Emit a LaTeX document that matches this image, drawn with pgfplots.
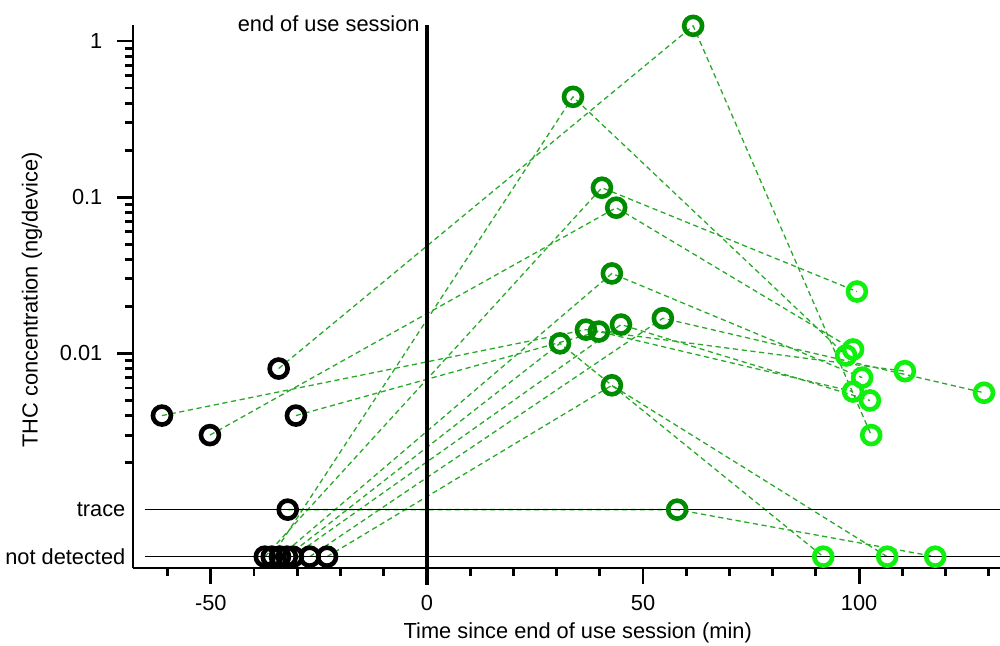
\documentclass[border=0pt]{standalone}
\usepackage{pgfplots}
\pgfplotsset{compat=1.18}
\usepackage{fontspec}
\setmainfont{Liberation Sans}
\definecolor{dkgreen}{RGB}{0,140,0}
\definecolor{ltgreen}{RGB}{15,240,15}
\definecolor{lngreen}{RGB}{40,170,40}
\begin{document}
\fontsize{10.9}{13}\selectfont
\begin{tikzpicture}
\begin{axis}[
  at={(0,0)}, anchor=south west,
  scale only axis, width=433.5pt, height=271.5pt,
  ymode=log,
  xmin=-68, xmax=132.6, ymin=0.000423, ymax=1.265,
  axis x line*=bottom, axis y line*=left,
  axis line style={line width=1.4pt},
  clip=false,
  xtick={-50,0,50,100},
  minor xtick={-60,-40,-30,-20,-10,10,20,30,40,60,70,80,90,110,120,130},
  ytick={0.01,0.1,1}, yticklabels={0.01,0.1,1},
  minor ytick={0.002,0.003,0.004,0.005,0.006,0.007,0.008,0.009,0.02,0.03,0.04,0.05,0.06,0.07,0.08,0.09,0.2,0.3,0.4,0.5,0.6,0.7,0.8,0.9},
  extra y ticks={0.0005,0.001},
  extra y tick labels={not detected,trace},
  extra y tick style={major tick length=0pt, tick style={draw=none}, yticklabel shift=0pt},
  tick align=outside,
  major tick length=8pt, minor tick length=4pt,
  tick style={line width=1.4pt, black},
  /pgf/number format/assume math mode=true,
  xticklabel style={yshift=-2pt},
  yticklabel shift=3.5pt,
]
% subject trajectories
\pgfplotsset{subj/.style={lngreen, line width=0.65pt, dash pattern=on 2.6pt off 1.8pt}}
\addplot[subj] coordinates {(-61.3,0.0040) (36.8,0.0142) (110.6,0.0077)};
\addplot[subj] coordinates {(-50.2,0.0030) (43.8,0.0857) (98.6,0.0106)};
\addplot[subj] coordinates {(-34.3,0.0080) (61.6,1.25) (102.8,0.0030)};
\addplot[subj] coordinates {(-30.3,0.0040) (39.8,0.0138) (98.6,0.0057)};
\addplot[subj] coordinates {(-32.2,0.0010) (57.9,0.0010) (117.6,0.0005)};
\addplot[subj] coordinates {(-35.9,0.0005) (33.8,0.439) (97.0,0.0097)};
\addplot[subj] coordinates {(-37.5,0.0005) (40.5,0.115) (99.5,0.0249)};
\addplot[subj] coordinates {(-34.0,0.0005) (42.8,0.0325) (100.7,0.0070)};
\addplot[subj] coordinates {(-32.4,0.0005) (30.8,0.0116) (91.7,0.0005)};
\addplot[subj] coordinates {(-31.0,0.0005) (44.9,0.0153) (102.5,0.0050)};
\addplot[subj] coordinates {(-27.1,0.0005) (54.6,0.0168) (128.9,0.0056)};
\addplot[subj] coordinates {(-23.1,0.0005) (42.8,0.00625) (106.5,0.0005)};
% detection limit lines
\addplot[black, line width=0.7pt] coordinates {(-65.3,0.001) (132.6,0.001)};
\addplot[black, line width=0.7pt] coordinates {(-65.3,0.0005) (132.6,0.0005)};
% end of use session
\addplot[black, line width=1.8pt] coordinates {(0,0.00033) (0,1.265)};
\node[anchor=east, inner sep=0pt] at (axis cs:-1.6,1.29) {end of use session};
% markers
\addplot[only marks, mark=o, mark size=4.5pt, mark options={line width=2.3pt, draw=black}] coordinates {
(-61.3,0.0040) (-50.2,0.0030) (-34.3,0.0080) (-30.3,0.0040) (-32.2,0.0010)
(-35.9,0.0005) (-37.5,0.0005) (-34.0,0.0005) (-32.4,0.0005) (-31.0,0.0005) (-27.1,0.0005) (-23.1,0.0005)};
\addplot[only marks, mark=o, mark size=4.5pt, mark options={line width=2.3pt, draw=dkgreen}] coordinates {
(36.8,0.0142) (43.8,0.0857) (61.6,1.25) (39.8,0.0138) (57.9,0.0010) (33.8,0.439)
(40.5,0.115) (42.8,0.0325) (30.8,0.0116) (44.9,0.0153) (54.6,0.0168) (42.8,0.00625)};
\addplot[only marks, mark=o, mark size=4.5pt, mark options={line width=2.3pt, draw=ltgreen}] coordinates {
(110.6,0.0077) (98.6,0.0106) (102.8,0.0030) (98.6,0.0057) (117.6,0.0005) (97.0,0.0097)
(99.5,0.0249) (100.7,0.0070) (91.7,0.0005) (102.5,0.0050) (128.9,0.0056) (106.5,0.0005)};
% axis labels
\node at ([yshift=-32.5pt]rel axis cs:0.513,0) {Time since end of use session (min)};
\node[rotate=90] at ([xshift=-50.5pt]rel axis cs:0,0.494) {THC concentration (ng/device)};
\end{axis}
\pgfresetboundingbox
\path (-66.5pt,-38.5pt) rectangle (433.5pt,284pt);
\end{tikzpicture}
\end{document}
